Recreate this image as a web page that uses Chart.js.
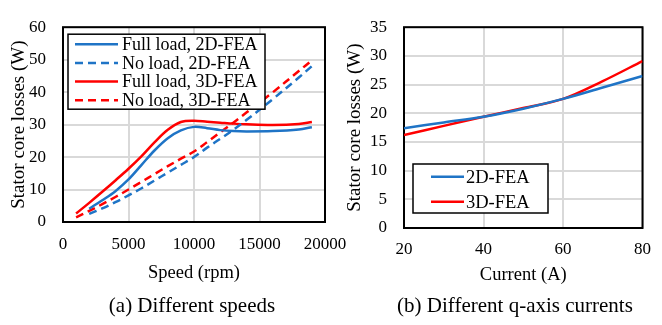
<!DOCTYPE html>
<html><head><meta charset="utf-8">
<script src="https://cdn.jsdelivr.net/npm/chart.js@4.4.0/dist/chart.umd.min.js"></script>
<style>
html,body{margin:0;padding:0;background:#fff;width:662px;height:325px;overflow:hidden;}
canvas{position:absolute;left:0;top:0;}
.cap{position:absolute;top:292px;font-family:"Liberation Serif","Times New Roman",serif;font-size:21px;color:#000;white-space:nowrap;text-align:center;line-height:26px}
</style></head><body>
<canvas id="c1" width="662" height="325" style="width:662px;height:325px"></canvas>
<canvas id="c2" width="662" height="325" style="width:662px;height:325px"></canvas>
<div class="cap" style="left:82px;width:220px">(a) Different speeds</div>
<div class="cap" style="left:385px;width:260px">(b) Different q-axis currents</div>
<script>
// ---------- data: chart (a) ----------
const speeds2D = [2000, 3000, 4000, 5000, 6000, 7000, 8000, 9000, 10000, 11000, 12000, 13000, 14000, 16000, 18000, 19000];
const fullLoad2D = [4.1, 6.7, 9.5, 13.1, 17.6, 22.1, 25.8, 28.2, 29.3, 28.9, 28.3, 28.0, 27.9, 28.0, 28.5, 29.2];
const noLoad2D = [2.5, 4.2, 6.1, 8.2, 10.4, 12.8, 15.2, 17.6, 20.0, 22.9, 25.6, 28.4, 31.4, 37.8, 44.5, 48.0];
const speeds3D = [1000, 2000, 3000, 4000, 5000, 6000, 7000, 8000, 9000, 10000, 11000, 12000, 13000, 14000, 16000, 18000, 19000];
const fullLoad3D = [2.6, 5.9, 9.3, 12.8, 16.4, 20.3, 24.6, 28.4, 30.8, 31.2, 30.9, 30.6, 30.3, 30.1, 29.9, 30.2, 30.8];
const noLoad3D = [1.4, 3.4, 5.5, 7.7, 10.0, 12.4, 14.8, 17.2, 19.5, 21.7, 24.6, 27.6, 30.6, 33.7, 39.9, 46.5, 49.8];
const seriesNamesA = ['Full load, 2D-FEA', 'No load, 2D-FEA', 'Full load, 3D-FEA', 'No load, 3D-FEA'];
const xTicksA = [0, 5000, 10000, 15000, 20000];
const yTicksA = [0, 10, 20, 30, 40, 50, 60];

// ---------- data: chart (b) ----------
const currents = [20, 30, 40, 50, 60, 70, 80];
const losses2D = [17.4, 18.4, 19.4, 20.8, 22.5, 24.5, 26.5];
const losses3D = [16.2, 17.8, 19.4, 20.9, 22.5, 25.6, 29.1];
const seriesNamesB = ['2D-FEA', '3D-FEA'];
const xTicksB = [20, 40, 60, 80];
const yTicksB = [0, 5, 10, 15, 20, 25, 30, 35];

const FONT = "'Liberation Serif','Times New Roman',serif";
const BLUE = '#1f74c6';
const RED = '#ff0000';

const pts = (xs, ys) => xs.map((x, i) => ({x: x, y: ys[i]}));

const frame = {
  id: 'frame',
  beforeDatasetsDraw(chart) {
    const {ctx, chartArea: a} = chart;
    ctx.save();
    ctx.strokeStyle = '#000';
    ctx.lineWidth = 2;
    ctx.strokeRect(a.left, a.top, a.right - a.left, a.bottom - a.top);
    ctx.restore();
  }
};

const boxLegend = {
  id: 'boxLegend',
  afterDraw(chart, args, o) {
    const {ctx, chartArea: a} = chart;
    const left = a.left + o.dx;
    const top = o.fromBottom ? a.bottom - o.dy - o.h : a.top + o.dy;
    ctx.save();
    ctx.fillStyle = '#fff';
    ctx.fillRect(left, top, o.w, o.h);
    ctx.strokeStyle = '#000';
    ctx.lineWidth = 1.5;
    ctx.strokeRect(left, top, o.w, o.h);
    ctx.font = o.fontSize + 'px ' + FONT;
    ctx.textBaseline = 'middle';
    ctx.textAlign = 'left';
    chart.data.datasets.forEach((ds, i) => {
      const y = top + o.row0 + i * o.rowH;
      ctx.strokeStyle = ds.borderColor;
      ctx.lineWidth = 2.5;
      ctx.setLineDash(ds.borderDash || []);
      ctx.beginPath();
      ctx.moveTo(left + o.lineX, y);
      ctx.lineTo(left + o.lineX + o.lineLen, y);
      ctx.stroke();
      ctx.setLineDash([]);
      ctx.fillStyle = '#000';
      ctx.fillText(ds.label, left + o.textX, y + 1);
    });
    ctx.restore();
  }
};

function axis(opts) {
  return {
    type: 'linear', min: opts.min, max: opts.max,
    afterBuildTicks: s => { s.ticks = opts.ticks.map(v => ({value: v})); },
    ticks: {callback: v => String(v), font: {family: FONT, size: 17}, color: '#000',
            padding: opts.tpad, maxRotation: 0, autoSkip: false},
    grid: {color: '#d9d9d9', lineWidth: 2, drawTicks: false},
    border: {display: false},
    title: {display: true, text: opts.title, color: '#000',
            font: {family: FONT, size: opts.tsize}, padding: opts.titlePad},
    afterFit: opts.fit
  };
}

function line(label, data, color, dash) {
  return {label, data, borderColor: color, backgroundColor: color, borderWidth: 2.5,
          borderDash: dash, pointRadius: 0, tension: 0.35, fill: false};
}

new Chart(document.getElementById('c1'), {
  type: 'line',
  data: {datasets: [
    line(seriesNamesA[0], pts(speeds2D, fullLoad2D), BLUE, []),
    line(seriesNamesA[1], pts(speeds2D, noLoad2D), BLUE, [8, 5]),
    line(seriesNamesA[2], pts(speeds3D, fullLoad3D), RED, []),
    line(seriesNamesA[3], pts(speeds3D, noLoad3D), RED, [8, 5])
  ]},
  options: {
    responsive: false, animation: false, events: [],
    layout: {padding: {left: 0, right: 337, top: 14, bottom: 40}},
    plugins: {legend: {display: false}, tooltip: {enabled: false},
      boxLegend: {dx: 5, dy: 7, w: 197, h: 75, row0: 10, rowH: 18.7, lineX: 7, lineLen: 43, textX: 54, fontSize: 18}},
    scales: {
      x: axis({min: 0, max: 20000, ticks: xTicksA, tpad: 12, title: 'Speed (rpm)', tsize: 18.5,
               titlePad: {top: 0, bottom: 1}, fit: s => { s.height = 63; }}),
      y: axis({min: 0, max: 60, ticks: yTicksA, tpad: 17, title: 'Stator core losses (W)', tsize: 19,
               titlePad: {top: 8, bottom: 0}, fit: s => { s.width = 63; }})
    }
  },
  plugins: [frame, boxLegend]
});

new Chart(document.getElementById('c2'), {
  type: 'line',
  data: {datasets: [
    line(seriesNamesB[0], pts(currents, losses2D), BLUE, []),
    line(seriesNamesB[1], pts(currents, losses3D), RED, [])
  ]},
  options: {
    responsive: false, animation: false, events: [],
    layout: {padding: {left: 340, right: 9, top: 12, bottom: 38}},
    plugins: {legend: {display: false}, tooltip: {enabled: false},
      boxLegend: {fromBottom: true, dx: 9, dy: 15, w: 135, h: 49, row0: 12.7, rowH: 25, lineX: 18, lineLen: 33, textX: 53, fontSize: 18.5}},
    scales: {
      x: axis({min: 20, max: 80, ticks: xTicksB, tpad: 11, title: 'Current (A)', tsize: 18.5,
               titlePad: {top: 0, bottom: 1}, fit: s => { s.height = 59; }}),
      y: axis({min: 0, max: 35, ticks: yTicksB, tpad: 17, title: 'Stator core losses (W)', tsize: 19,
               titlePad: {top: 4, bottom: 0}, fit: s => { s.width = 64; }})
    }
  },
  plugins: [frame, boxLegend]
});
</script>
</body></html>
